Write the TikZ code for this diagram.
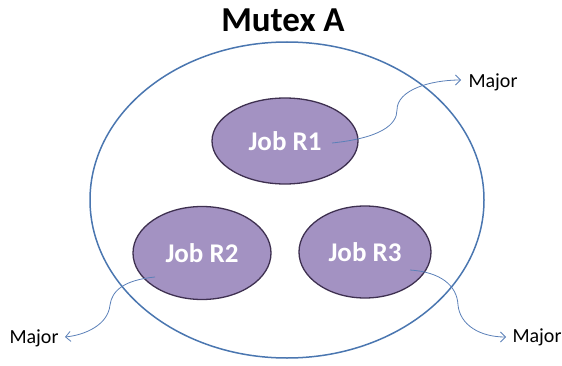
\documentclass[tikz,border=0pt]{standalone}
\usepackage{fontspec}
\setmainfont{Carlito}
\usetikzlibrary{shapes.geometric,arrows.meta}
\definecolor{jobfill}{HTML}{A392C2}
\definecolor{jobdraw}{HTML}{3E3050}
\definecolor{outer}{HTML}{4A76B0}
\definecolor{conn}{HTML}{5B80B8}
\tikzset{
  job/.style={ellipse, fill=jobfill, draw=jobdraw, line width=1.3pt, inner sep=0pt,
    font=\fontsize{27}{29}\selectfont\bfseries, text=white},
  lbl/.style={font=\fontsize{20}{22}\selectfont, text=black, inner sep=1pt},
  conn/.style={draw=conn, line width=0.8pt, -{Straight Barb[length=5pt,width=10pt]}}
}
\begin{document}
\begin{tikzpicture}[x=1pt,y=1pt]
\useasboundingbox (0,0) rectangle (562,365);
% title
\node[font=\fontsize{35}{37}\selectfont\bfseries] (title) at (283,345) {Mutex A};
% outer ellipse
\node[ellipse, draw=outer, line width=1.5pt, minimum width=394pt, minimum height=316pt, inner sep=0pt] (mutex) at (287,165) {};
% jobs
\node[job, minimum width=146pt, minimum height=86pt] (r1) at (285,224) {Job R1};
\node[job, minimum width=138pt, minimum height=93pt] (r2) at (202,112) {Job R2};
\node[job, minimum width=132pt, minimum height=92pt] (r3) at (365,113) {Job R3};
% labels
\node[lbl] (m1) at (493,283) {Major};
\node[lbl] (m2) at (34,27) {Major};
\node[lbl] (m3) at (537,28) {Major};
% start points
\coordinate (s1) at (332,222);
\coordinate (s2) at (155,88);
\coordinate (s3) at (410,95);
\coordinate (e1) at (461,285);
\coordinate (e2) at (65,28);
\coordinate (e3) at (506,28);
% connectors
\draw[conn] (s1) .. controls (380,227) and (397,240) .. (397,255) .. controls (397,275) and (430,285) .. (e1);
\draw[conn] (s2) .. controls (125,85) and (112,75) .. (110,60) .. controls (108,40) and (85,30) .. (e2);
\draw[conn] (s3) .. controls (440,93) and (457,80) .. (458,60) .. controls (460,40) and (480,28) .. (e3);
\end{tikzpicture}
\end{document}
